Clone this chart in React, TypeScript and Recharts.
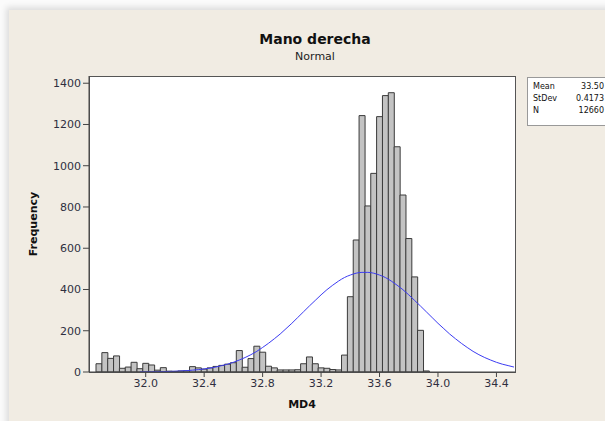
import React from "react";
import { ComposedChart, Bar, Line, XAxis, YAxis } from "recharts";

// histogram bins (centre of each 0.04 wide class) and their frequencies
const binCenters = [
  31.68, 31.72, 31.76, 31.8, 31.84, 31.88, 31.92, 31.96, 32.0, 32.04,
  32.08, 32.12, 32.16, 32.2, 32.24, 32.28, 32.32, 32.36, 32.4, 32.44,
  32.48, 32.52, 32.56, 32.6, 32.64, 32.68, 32.72, 32.76, 32.8, 32.84,
  32.88, 32.92, 32.96, 33.0, 33.04, 33.08, 33.12, 33.16, 33.2, 33.24,
  33.28, 33.32, 33.36, 33.4, 33.44, 33.48, 33.52, 33.56, 33.6, 33.64,
  33.68, 33.72, 33.76, 33.8, 33.84, 33.88, 33.92,
];
const counts = [
  40, 94, 66, 78, 18, 24, 47, 16, 42, 34,
  9, 21, 4, 3, 5, 6, 26, 20, 14, 20,
  27, 32, 38, 45, 104, 23, 65, 125, 96, 28,
  20, 10, 10, 10, 11, 40, 73, 40, 20, 18,
  12, 10, 82, 365, 640, 1243, 805, 963, 1238, 1340,
  1354, 1092, 858, 647, 461, 202, 5,
];

// fitted normal curve
const fitX = [
  31.96, 32.0, 32.04, 32.08, 32.12, 32.16, 32.2, 32.24, 32.28, 32.32,
  32.36, 32.4, 32.44, 32.48, 32.52, 32.56, 32.6, 32.64, 32.68, 32.72,
  32.76, 32.8, 32.84, 32.88, 32.92, 32.96, 33.0, 33.04, 33.08, 33.12,
  33.16, 33.2, 33.24, 33.28, 33.32, 33.36, 33.4, 33.44, 33.48, 33.52,
  33.56, 33.6, 33.64, 33.68, 33.72, 33.76, 33.8, 33.84, 33.88, 33.92,
  33.96, 34.0, 34.04, 34.08, 34.12, 34.16, 34.2, 34.24, 34.28, 34.32,
  34.36, 34.4, 34.44, 34.48, 34.52,
];
const fitY = [
  0.5, 0.8, 1.1, 1.5, 2, 2.8, 3.8, 5.1, 6.7, 8.9,
  11.5, 15, 19, 24, 31, 38, 47, 58, 70, 84,
  100, 119, 139, 161, 184, 210, 236, 264, 292, 320,
  347, 374, 399, 421, 441, 458, 470, 479, 483, 483,
  479, 470, 458, 441, 421, 399, 374, 347, 320, 292,
  264, 236, 210, 184, 161, 139, 119, 100, 84, 70,
  58, 47, 38, 31, 24,
];

const xTicks = [32.0, 32.4, 32.8, 33.2, 33.6, 34.0, 34.4];
const yTicks = [0, 200, 400, 600, 800, 1000, 1200, 1400];

const stats = [
  { label: "Mean", value: "33.50" },
  { label: "StDev", value: "0.4173" },
  { label: "N", value: "12660" },
];

type Row = { x: number; count?: number; fit?: number };

function buildRows(): Row[] {
  const map = new Map<string, Row>();
  binCenters.forEach((x, i) => {
    map.set(x.toFixed(2), { x, count: counts[i] });
  });
  fitX.forEach((x, i) => {
    const key = x.toFixed(2);
    const r = map.get(key) || { x };
    r.fit = fitY[i];
    map.set(key, r);
  });
  return Array.from(map.values()).sort((a, b) => a.x - b.x);
}

const rows = buildRows();

const font = '"DejaVu Sans", Verdana, sans-serif';
const tickStyle = { fill: "#2f2f3f", fontSize: 11, fontFamily: font };

export default function App() {
  return (
    <div style={{ position: "fixed", left: 0, top: 0, width: 605, height: 421, background: "#fbfbfb", overflow: "hidden", fontFamily: font }}>
      <div style={{ position: "absolute", left: 9, top: 10, width: 620, height: 430, background: "#f1ece3", boxShadow: "-3px -3px 6px rgba(0,0,0,0.12)" }} />
      <div style={{ position: "absolute", left: 0, width: 630, top: 31, textAlign: "center", fontWeight: "bold", fontSize: 14, color: "#111" }}>
        Mano derecha
      </div>
      <div style={{ position: "absolute", left: 0, width: 630, top: 50, textAlign: "center", fontSize: 11, color: "#222" }}>
        Normal
      </div>
      {/* plot frame */}
      <div style={{ position: "absolute", left: 89, top: 76, width: 425, height: 295, background: "#fff", border: "1px solid #555" }} />
      <div style={{ position: "absolute", left: 0, top: 0 }}>
        <ComposedChart
          width={605}
          height={421}
          data={rows}
          margin={{ top: 76, right: 90, bottom: 9, left: 29 }}
          barCategoryGap={0}
          barGap={0}
        >
          <XAxis
            dataKey="x"
            type="number"
            domain={[31.612, 34.527]}
            allowDataOverflow
            ticks={xTicks}
            tickFormatter={(v: number) => v.toFixed(1)}
            tick={tickStyle}
            tickSize={5}
            tickMargin={2}
            height={40}
            stroke="#444"
            label={{ value: "MD4", position: "insideBottom", offset: 4, style: { fontSize: 11, fontWeight: "bold", fill: "#111", fontFamily: font } }}
          />
          <YAxis
            type="number"
            domain={[0, 1435]}
            allowDataOverflow
            ticks={yTicks}
            tick={tickStyle}
            tickSize={6}
            tickMargin={2}
            width={60}
            stroke="#444"
            label={{ value: "Frequency", angle: -90, position: "insideLeft", offset: 4, style: { fontSize: 11, fontWeight: "bold", fill: "#111", fontFamily: font, textAnchor: "middle" } }}
          />
          <Bar dataKey="count" fill="#c3c3c3" stroke="#3a3a3a" strokeWidth={1} isAnimationActive={false} />
          <Line dataKey="fit" type="monotone" stroke="#3c3cf2" strokeWidth={1} dot={false} activeDot={false} isAnimationActive={false} />
        </ComposedChart>
      </div>
      {/* stats box */}
      <div style={{ position: "absolute", left: 527, top: 77, width: 90, height: 47, border: "1px solid #999", background: "#fff", fontSize: 8, color: "#111" }}>
        {stats.map((s) => (
          <div key={s.label} style={{ position: "relative", height: 12, lineHeight: "12px", marginTop: s.label === "Mean" ? 3 : 0 }}>
            <span style={{ position: "absolute", left: 5 }}>{s.label}</span>
            <span style={{ position: "absolute", right: 14 }}>{s.value}</span>
          </div>
        ))}
      </div>
    </div>
  );
}
